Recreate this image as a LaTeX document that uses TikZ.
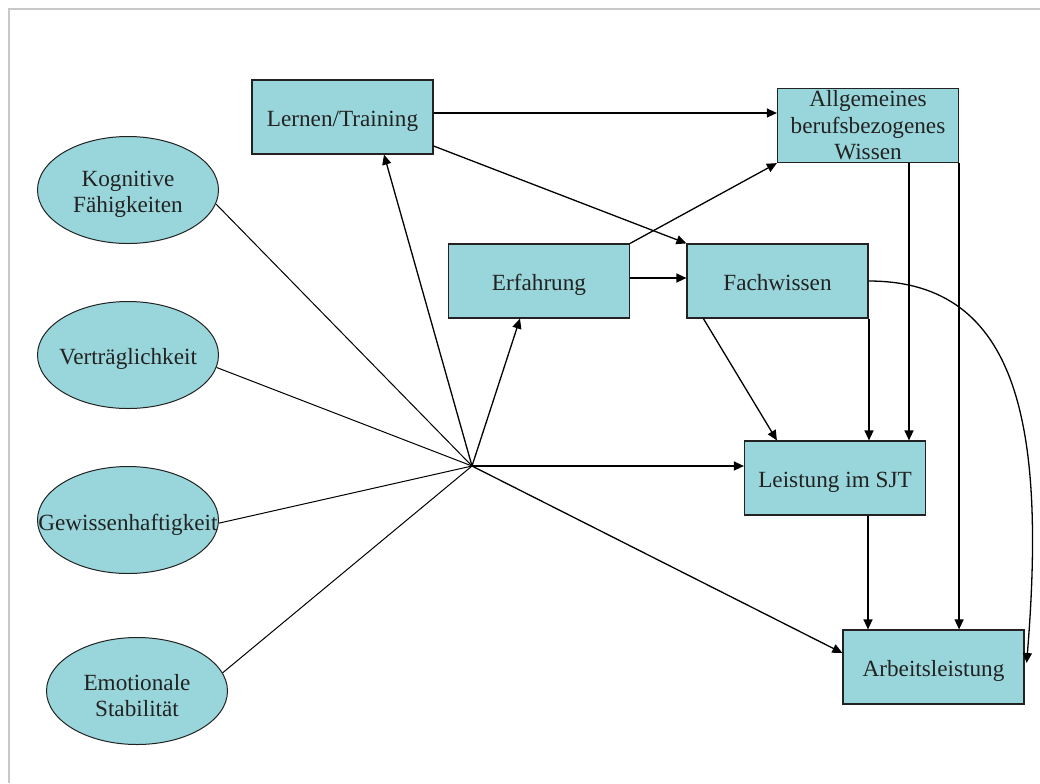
\documentclass[tikz,border=0pt]{standalone}
\usepackage{fontspec}
\setmainfont{Liberation Serif}
\usetikzlibrary{shapes.geometric,arrows.meta,calc}
\definecolor{boxfill}{RGB}{153,214,219}
\definecolor{ink}{RGB}{34,34,34}
\definecolor{framegray}{RGB}{200,200,200}
\begin{document}
\begin{tikzpicture}[x=0.5pt,y=-0.5pt,
  every node/.style={font=\fontsize{11.6pt}{13.3pt}\selectfont, text=ink},
  box/.style={rectangle, draw=ink, line width=0.6pt, fill=boxfill, minimum width=90.5pt, minimum height=37pt, inner sep=0pt, align=center},
  onel/.style={text height=11pt, text depth=1.3pt},
  ell/.style={ellipse, draw=ink, line width=0.5pt, fill=boxfill, minimum width=90.5pt, minimum height=53.5pt, inner sep=0pt},
  ellabel/.style={align=center, inner sep=0pt, yshift=-2.2pt},
  arr/.style={draw=black, line width=0.65pt, -{Triangle[length=5pt,width=4.5pt]}},
  thinln/.style={draw=black, line width=0.5pt}
]
\useasboundingbox (0,0) rectangle (1040,783);
\draw[framegray, line width=1pt] (9,783) -- (9,9) -- (1040,9);

% rectangles
\node[box, onel] (lern) at (342.5,117) {Lernen/Training};
\node[box] (allg) at (868,125.5) {Allgemeines\\berufsbezogenes\\Wissen};
\node[box, onel] (erf) at (539,281) {Erfahrung};
\node[box, onel] (fach) at (777.5,281) {Fachwissen};
\node[box, onel] (sjt) at (835,478) {Leistung im SJT};
\node[box, onel] (arb) at (933.5,667) {Arbeitsleistung};

% ellipses
\node[ell, label={[ellabel]center:{Kognitive\\Fähigkeiten}}] (kog) at (128,190) {};
\node[ell, label={[ellabel]center:{Verträglichkeit}}] (vert) at (128,355) {};
\node[ell, label={[ellabel]center:{Gewissenhaftigkeit}}] (gew) at (128,520) {};
\node[ell, label={[ellabel]center:{Emotionale\\Stabilität}}] (emo) at (137,691) {};

\coordinate (hub) at (472,466);

% lines from ellipses to hub
\draw[thinln] (kog.-9) -- (hub);
\draw[thinln] (vert.-8) -- (hub);
\draw[thinln] (gew.-2) -- (hub);
\draw[thinln] (emo.12) -- (hub);

% arrows from hub
\draw[arr] (hub) -- ($(lern.south)+(41.5,0)$);
\draw[arr] (hub) -- ($(erf.south)+(-19,0)$);
\draw[arr] (hub) -- ($(sjt.west)+(0,-12)$);
\draw[arr] (hub) -- ($(arb.west)+(0,-14)$);

% other arrows
\draw[arr] ($(lern.east)+(0,-4)$) coordinate (p1) -- (p1 -| allg.west);
\draw[arr] ($(lern.east)+(0,29)$) -- (fach.north west);
\draw[arr] (erf.north east) -- (allg.south west);
\draw[arr] ($(erf.east)+(0,-3)$) coordinate (p2) -- (p2 -| fach.west);
\draw[arr] ($(fach.south west)+(17,0)$) -- ($(sjt.north west)+(33,0)$);
\draw[arr] ($(fach.south east)+(0.4,0)$) coordinate (p5) -- (p5 |- sjt.north);
\draw[arr] ($(allg.south)+(41,0)$) coordinate (p3) -- (p3 |- sjt.north);
\draw[arr] (allg.south east) -- (allg.south east |- arb.north);
\draw[arr] ($(sjt.south)+(33,0)$) coordinate (p4) -- (p4 |- arb.north);
\draw[arr] (fach.east) .. controls +(152,0) and +(19,-233) .. ($(arb.east)+(2,-4)$);
\end{tikzpicture}
\end{document}
